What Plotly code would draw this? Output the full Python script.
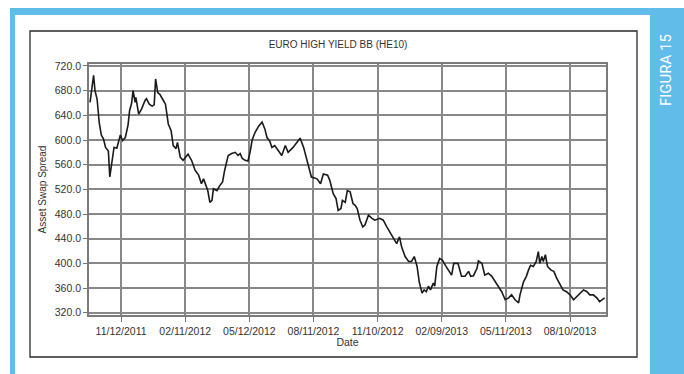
import plotly.graph_objects as go

# ---------------- data ----------------
dates = [
    "2011-09-29", "2011-10-04", "2011-10-06", "2011-10-09", "2011-10-12", "2011-10-15",
    "2011-10-18", "2011-10-21", "2011-10-25", "2011-10-27", "2011-10-29", "2011-10-31",
    "2011-11-02", "2011-11-06", "2011-11-09", "2011-11-11", "2011-11-14", "2011-11-18",
    "2011-11-22", "2011-11-24", "2011-11-27", "2011-11-29", "2011-12-02", "2011-12-03",
    "2011-12-07", "2011-12-11", "2011-12-16", "2011-12-18", "2011-12-22", "2011-12-26",
    "2011-12-29", "2011-12-31",
    "2012-01-03", "2012-01-06", "2012-01-11", "2012-01-14", "2012-01-18", "2012-01-22",
    "2012-01-25", "2012-01-29", "2012-01-31", "2012-02-04", "2012-02-08", "2012-02-13",
    "2012-02-15", "2012-02-20", "2012-02-25", "2012-03-01", "2012-03-05", "2012-03-08",
    "2012-03-11", "2012-03-14", "2012-03-17", "2012-03-20", "2012-03-22", "2012-03-27",
    "2012-03-31", "2012-04-04", "2012-04-07", "2012-04-10", "2012-04-12", "2012-04-17",
    "2012-04-22", "2012-04-26", "2012-04-29", "2012-05-02", "2012-05-06", "2012-05-10",
    "2012-05-13", "2012-05-16", "2012-05-20", "2012-05-25", "2012-05-30", "2012-06-03",
    "2012-06-06", "2012-06-10", "2012-06-13", "2012-06-17", "2012-06-22", "2012-06-27",
    "2012-07-02", "2012-07-06", "2012-07-13", "2012-07-18", "2012-07-23", "2012-07-28",
    "2012-08-01", "2012-08-04", "2012-08-08", "2012-08-16", "2012-08-21", "2012-08-25",
    "2012-08-31", "2012-09-03", "2012-09-08", "2012-09-12", "2012-09-15", "2012-09-19",
    "2012-09-21", "2012-09-25", "2012-09-28", "2012-10-02", "2012-10-06", "2012-10-09",
    "2012-10-12", "2012-10-16", "2012-10-20", "2012-10-23", "2012-10-28", "2012-11-02",
    "2012-11-06", "2012-11-13", "2012-11-18", "2012-11-23", "2012-11-28", "2012-12-02",
    "2012-12-07", "2012-12-11", "2012-12-14", "2012-12-19", "2012-12-24", "2012-12-28",
    "2013-01-01", "2013-01-05", "2013-01-08", "2013-01-12", "2013-01-15", "2013-01-18",
    "2013-01-21", "2013-01-24", "2013-01-28", "2013-01-30", "2013-02-02", "2013-02-06",
    "2013-02-10", "2013-02-15", "2013-02-20", "2013-02-23", "2013-02-26", "2013-03-04",
    "2013-03-09", "2013-03-14", "2013-03-19", "2013-03-22", "2013-03-26", "2013-03-31",
    "2013-04-02", "2013-04-07", "2013-04-11", "2013-04-16", "2013-04-21", "2013-04-26",
    "2013-04-30", "2013-05-05", "2013-05-10", "2013-05-15", "2013-05-19", "2013-05-24",
    "2013-05-29", "2013-05-31", "2013-06-05", "2013-06-09", "2013-06-12", "2013-06-15",
    "2013-06-19", "2013-06-23", "2013-06-26", "2013-06-28", "2013-07-01", "2013-07-03",
    "2013-07-06", "2013-07-09", "2013-07-14", "2013-07-18", "2013-07-22", "2013-07-27",
    "2013-07-31", "2013-08-05", "2013-08-10", "2013-08-15", "2013-08-19", "2013-08-24",
    "2013-08-29", "2013-09-03", "2013-09-07", "2013-09-12", "2013-09-17", "2013-09-21",
    "2013-09-25", "2013-09-28",
]

spread = [
    661, 705, 680, 666, 628, 608,
    602, 588, 582, 540, 556, 577,
    588, 587, 600, 608, 599, 604,
    625, 647, 660, 680, 661, 669,
    642, 650, 664, 667, 658, 655,
    657, 699,
    677, 674, 664, 658, 626, 615,
    591, 586, 596, 572, 567, 574,
    577, 567, 551, 543, 529, 537,
    526, 518, 499, 502, 521, 518,
    526, 532, 551, 564, 575, 578,
    580, 575, 578, 570, 567, 566,
    580, 600, 612, 622, 629, 618,
    604, 598, 588, 591, 583, 575,
    591, 580, 588, 596, 603, 588,
    570, 561, 540, 537, 529, 545,
    543, 535, 513, 505, 486, 489,
    502, 499, 518, 516, 497, 494,
    489, 470, 459, 462, 478, 473,
    470, 473, 470, 459, 449, 441,
    432, 443, 427, 411, 403, 403,
    411, 395, 370, 352, 357, 354,
    363, 357, 368, 363, 395, 408,
    405, 395, 387, 381, 400, 400,
    379, 379, 387, 379, 380, 392,
    404, 400, 381, 384, 379, 370,
    362, 354, 341, 344, 349, 341,
    336, 349, 370, 379, 389, 397,
    395, 403, 419, 400, 411, 403,
    414, 395, 389, 387, 376, 365,
    357, 354, 349, 341, 346, 352,
    357, 354, 349, 349, 344, 338,
    341, 344,
]

assert len(dates) == len(spread), (len(dates), len(spread))

y_ticks = [320, 360, 400, 440, 480, 520, 560, 600, 640, 680, 720]
x_tick0 = "2011-11-12"
x_tick_step_days = 91

title_text = "EURO HIGH YIELD BB (HE10)"
y_title = "Asset Swap Spread"
x_title = "Date"
side_label = "FIGURA 15"

# ---------------- layout geometry (pixels) ----------------
W, H = 684, 374
PL, PR, PT, PB = 89, 606, 64, 315  # plot area edges
pw, ph = PR - PL, PB - PT


def px(x):
    return (x - PL) / pw


def py(y):
    return (PB - y) / ph


BLUE = "#62BCEA"
GRID = "#888888"
TXT = "#333333"
FONT = "Liberation Sans, Arial, sans-serif"

fig = go.Figure()
fig.add_trace(go.Scatter(
    x=dates, y=spread, mode="lines",
    line=dict(color="#1a1a1a", width=1.6),
    hoverinfo="skip", showlegend=False,
))

shapes = [
    # blue frame
    dict(type="rect", xref="paper", yref="paper", x0=px(10), x1=px(650), y0=py(8), y1=py(15),
         fillcolor=BLUE, line=dict(width=0), layer="above"),
    dict(type="rect", xref="paper", yref="paper", x0=px(10), x1=px(15), y0=py(8), y1=py(H + 2),
         fillcolor=BLUE, line=dict(width=0), layer="above"),
    dict(type="rect", xref="paper", yref="paper", x0=px(650), x1=px(W + 2), y0=py(8), y1=py(H + 2),
         fillcolor=BLUE, line=dict(width=0), layer="above"),
    # chart box
    dict(type="rect", xref="paper", yref="paper", x0=px(30), x1=px(637), y0=py(31), y1=py(357),
         fillcolor="rgba(0,0,0,0)", line=dict(color="#2a2a2a", width=1.3), layer="above"),
]

fig.update_layout(
    width=W, height=H,
    margin=dict(l=PL, r=W - PR, t=PT, b=H - PB, autoexpand=False),
    paper_bgcolor="white", plot_bgcolor="white",
    font=dict(family=FONT, size=10, color=TXT),
    title=dict(text=title_text, x=338 / W, y=1 - 44 / H, xref="container", yref="container",
               xanchor="center", yanchor="middle",
               font=dict(family=FONT, size=10, color=TXT)),
    shapes=shapes,
    annotations=[
        dict(text=side_label, xref="paper", yref="paper", x=px(666), y=py(70),
             xanchor="center", yanchor="middle", textangle=-90, showarrow=False,
             font=dict(family="Roboto, sans-serif", size=15, color="white")),
    ],
)

fig.update_xaxes(
    type="date",
    range=["2011-09-27 12:00", "2013-09-30"],
    tick0=x_tick0, dtick=x_tick_step_days * 86400000, tickformat="%m/%d/%Y",
    ticks="outside", ticklen=5, tickcolor="#777", tickwidth=1.3,
    tickfont=dict(family=FONT, size=10.5, color=TXT),
    showgrid=True, gridcolor=GRID, gridwidth=1.8,
    showline=True, linecolor="#7a7a7a", linewidth=1.8, mirror=True,
    zeroline=False,
    title=dict(text=x_title, standoff=2, font=dict(family=FONT, size=10.5, color=TXT)),
    automargin=False,
)
fig.update_yaxes(
    range=[316.3, 723.2],
    tickvals=y_ticks, tickformat=".1f",
    ticks="outside", ticklen=4, tickcolor="#777", tickwidth=1.3,
    tickfont=dict(family=FONT, size=10.5, color=TXT),
    showgrid=True, gridcolor=GRID, gridwidth=1.8,
    showline=True, linecolor="#7a7a7a", linewidth=1.8, mirror=True,
    zeroline=False,
    title=dict(text=y_title, standoff=6, font=dict(family=FONT, size=10, color=TXT)),
    automargin=False,
)

fig.write_html("out.html")
